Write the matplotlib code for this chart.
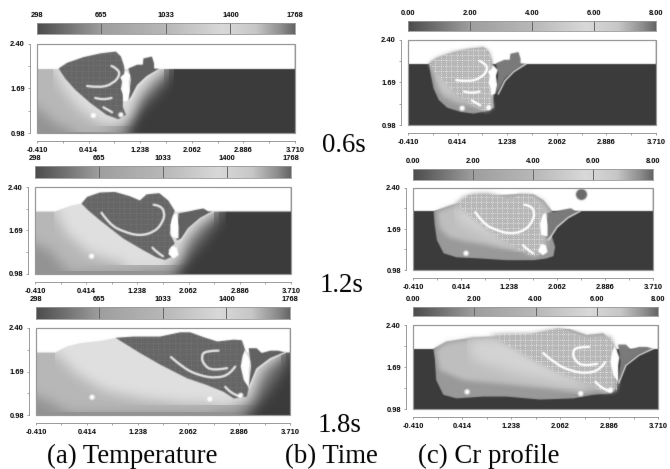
import numpy as np
import matplotlib
matplotlib.use("Agg")
import matplotlib.pyplot as plt
from matplotlib.colors import LinearSegmentedColormap
from matplotlib.patches import Polygon, Rectangle, PathPatch
from matplotlib.path import Path
from matplotlib.collections import LineCollection

# ---------- tick labels ----------
X_TICKS = [-0.41, 0.414, 1.238, 2.062, 2.886, 3.71]
X_LABELS = ["-0.410", "0.414", "1.238", "2.062", "2.886", "3.710"]
X_MINOR = [0.002, 0.826, 1.65, 2.474, 3.298]
Y_TICKS = [0.98, 1.69, 2.40]
Y_LABELS = ["0.98", "1.69", "2.40"]
Y_MINOR = [1.335, 2.045]
T_TICKS = [298, 665, 1033, 1400, 1768]
T_LABELS = ["298", "665", "1033", "1400", "1768"]
CR_TICKS = [0, 2, 4, 6, 8]
CR_LABELS = ["0.00", "2.00", "4.00", "6.00", "8.00"]
TIME_LABELS = ["0.6s", "1.2s", "1.8s"]
COLUMN_LABELS = ["(a) Temperature", "(b) Time", "(c) Cr profile"]

# colour bar grey
BAR_POS = [0, .12, .25, .5, .72, .85, .95, 1]
BAR_GREY = [.30, .45, .62, .72, .85, .78, .55, .40]

# ---------- air boundary ----------
AIR_06_X = [-.41, 3.71, 3.71, -.41]
AIR_06_Y = [2, 2, 2.4, 2.4]
AIR_12_X = [-.41, -.09, .04, .18, .337, .9, 3.71, 3.71, -.41]
AIR_12_Y = [2, 2, 2.05, 2.1, 2.13, 2.0, 2.0, 2.4, 2.4]
AIR_18_X = [-.41, -.1, .09, .31, .63, .88, 1.5, 3.71, 3.71, -.41]
AIR_18_Y = [2, 2, 2.10, 2.155, 2.19, 2.24, 2.0, 2.0, 2.4, 2.4]

# ---------- temperature isotherm bands ----------
BAND_06_A_X = [1.77, 1.62, 1.38, 1.17, 1.05, -.41, -.41]
BAND_06_A_Y = [2, 1.72, 1.47, 1.26, .98, .98, 2]
BAND_06_B_X = [1.69, 1.5, 1.23, 1.1, .97, -.41, -.41]
BAND_06_B_Y = [2, 1.78, 1.51, 1.25, .98, .98, 2]
BAND_06_C_X = [1.61, 1.4, 1.19, 1.08, .92, .7, .2, -.15, -.41, -.41]
BAND_06_C_Y = [2, 1.83, 1.62, 1.36, 1.08, 1.0, 1.0, 1.15, 1.4, 2]
BAND_06_D_X = [-.145, .015, .28, .6, .87, 1.05, 1.19, 1.4, 1.61]
BAND_06_D_Y = [2, 1.67, 1.35, 1.14, 1.10, 1.22, 1.56, 1.85, 2]

BAND_12_A_X = [2.65, 2.46, 2.19, 2.0, 1.87, -.41, -.41]
BAND_12_A_Y = [2, 1.70, 1.37, 1.15, .98, .98, 2]
BAND_12_B_X = [2.54, 2.3, 2.06, 1.92, 1.79, -.41, -.41]
BAND_12_B_Y = [2, 1.78, 1.45, 1.15, .98, .98, 2]
BAND_12_C_X = [2.46, 2.19, 1.98, 1.87, 1.68, 1.17, .1, -.17, -.41, -.41]
BAND_12_C_Y = [2, 1.80, 1.56, 1.21, 1.07, 1.04, 1.04, 1.37, 1.48, 2]
BAND_12_D_X = [-.09, .1, .47, 1.06, 1.71, 1.87, 1.98, 2.19, 2.46]
BAND_12_D_Y = [2, 1.64, 1.32, 1.13, 1.13, 1.23, 1.53, 1.80, 2]

BAND_18_A_X = [3.71, 3.6, 3.4, 3.2, 3.03, -.41, -.41]
BAND_18_A_Y = [2, 1.7, 1.4, 1.15, .98, .98, 2]
BAND_18_B_X = [3.63, 3.4, 3.22, 3.1, 2.9, -.41, -.41]
BAND_18_B_Y = [2, 1.75, 1.45, 1.2, .98, .98, 2]
BAND_18_C_X = [3.55, 3.25, 3.1, 3.05, 2.8, 2.4, .1, -.2, -.41, -.41]
BAND_18_C_Y = [2, 1.8, 1.45, 1.25, 1.1, 1.04, 1.04, 1.2, 1.3, 2]
BAND_18_D_X = [-.1, .25, .7, 1.3, 2.0, 2.7, 3.0, 3.1, 3.22, 3.55]
BAND_18_D_Y = [2, 1.65, 1.38, 1.25, 1.17, 1.15, 1.22, 1.45, 1.75, 2]

# ---------- liquid pool ----------
LIQ_06_X = [-.065, .07, .33, .6, .85, .93, .98, 1.0, .97, .96, 1.01, .89, .7, .44, .2, .04]
LIQ_06_Y = [2.01, 2.1, 2.19, 2.25, 2.28, 2.2, 2.05, 1.85, 1.6, 1.4, 1.27, 1.2, 1.27, 1.46, 1.67, 1.85]
LIQ_12_X = [.337, .43, .633, .875, 1.117, 1.278, 1.386, 1.59, 1.735, 1.84, 1.79, 1.76, 1.84, 1.735, 1.79, 1.68, 1.547, 1.33, 1.01, .633, .445]
LIQ_12_Y = [2.13, 2.24, 2.31, 2.32, 2.25, 2.18, 2.28, 2.30, 2.18, 2.01, 1.885, 1.64, 1.48, 1.37, 1.26, 1.21, 1.25, 1.37, 1.56, 1.86, 2.02]
LIQ_18_X = [.88, 1.17, 1.6, 1.93, 2.09, 2.31, 2.53, 2.8, 2.93, 3.0, 2.98, 2.98, 3.04, 3.01, 2.8, 2.63, 2.36, 2.04, 1.61, 1.28]
LIQ_18_Y = [2.24, 2.26, 2.26, 2.33, 2.33, 2.25, 2.18, 2.21, 2.20, 1.99, 1.85, 1.69, 1.42, 1.28, 1.25, 1.36, 1.47, 1.58, 1.80, 1.99]

# ---------- spatter on the far side ----------
SPAT_06_X = [1.05, 1.19, 1.28, 1.29, 1.425, 1.46, 1.46, 1.55, 1.345, 1.19, 1.09, 1.05, 1.09]
SPAT_06_Y = [2.01, 2.07, 2.07, 2.17, 2.2, 2.09, 2.01, 2.0, 1.89, 1.75, 1.56, 1.51, 1.83]
SPAT_12_X = [1.90, 2.06, 2.19, 2.30, 2.38, 2.46, 2.25, 2.06, 1.95, 1.87]
SPAT_12_Y = [1.97, 2.0, 2.03, 2.05, 2.0, 2.0, 1.885, 1.72, 1.56, 1.53]
SPAT_18_X = [3.04, 3.17, 3.25, 3.39, 3.52, 3.63, 3.39, 3.17, 3.09, 3.04, 3.08]
SPAT_18_Y = [2.07, 2.07, 1.99, 2.03, 2.03, 2.0, 1.91, 1.745, 1.55, 1.44, 1.77]

RIM_06_X = [1.09, 1.2, 1.345, 1.55]
RIM_06_Y = [1.5, 1.72, 1.87, 2.0]
RIM_12_X = [1.92, 2.06, 2.25, 2.46]
RIM_12_Y = [1.5, 1.72, 1.885, 2.0]
RIM_18_X = [3.05, 3.17, 3.39, 3.63]
RIM_18_Y = [1.42, 1.72, 1.89, 2.0]

# ---------- keyhole gas column ----------
KEY_06_X = [1.0, 1.08, 1.05, 1.07, 1.04, .97, .96, .93, .95, .92, .98]
KEY_06_Y = [1.98, 1.9, 1.8, 1.65, 1.5, 1.48, 1.6, 1.68, 1.8, 1.87, 1.92]
KEY_12_X = [1.87, 1.90, 1.90, 1.79, 1.77, 1.82]
KEY_12_Y = [1.97, 1.75, 1.56, 1.59, 1.78, 1.94]
POOL_12_X = [1.735, 1.79, 1.87, 1.90, 1.82]
POOL_12_Y = [1.305, 1.435, 1.41, 1.29, 1.235]
KEY_18_X = [2.98, 3.06, 3.04, 3.04, 2.96, 2.91, 2.94]
KEY_18_Y = [2.05, 1.85, 1.72, 1.43, 1.55, 1.77, 1.94]

# ---------- flow streaks ----------
FLOW_06_1_X = [.39, .60, .81, .92, .87, .78]
FLOW_06_1_Y = [1.73, 1.70, 1.77, 1.91, 2.01, 2.05]
FLOW_06_2_X = [.52, .65, .78]
FLOW_06_2_Y = [1.54, 1.50, 1.54]
FLOW_06_3_X = [.65, .79]
FLOW_06_3_Y = [1.39, 1.31]
FLOW_12_1_X = [.66, .79, 1.01, 1.28, 1.52, 1.65, 1.68, 1.6, 1.5]
FLOW_12_1_Y = [1.98, 1.79, 1.67, 1.60, 1.67, 1.83, 1.99, 2.10, 2.11]
FLOW_12_2_X = [1.48, 1.55, 1.65]
FLOW_12_2_Y = [1.41, 1.33, 1.27]
FLOW_18_1_X = [1.78, 1.98, 2.25, 2.53, 2.74, 2.82]
FLOW_18_1_Y = [1.925, 1.745, 1.62, 1.58, 1.65, 1.77]
FLOW_18_2_X = [2.55, 2.34, 2.27, 2.31, 2.45, 2.69]
FLOW_18_2_Y = [2.03, 2.03, 1.94, 1.80, 1.70, 1.745]
FLOW_18_3_X = [2.66, 2.74, 2.9]
FLOW_18_3_Y = [1.44, 1.335, 1.28]

PORE_06_X = [.49, .93]
PORE_06_Y = [1.26, 1.27]
PORE_12_X = [.50]
PORE_12_Y = [1.27]
PORE_18_X = [.5, 2.41, 2.91]
PORE_18_Y = [1.27, 1.24, 1.30]

# ---------- chromium profile regions ----------
MELT_06_X = [-.065, .07, .33, .6, .85, .93, .98, 1.02, 1.02, 1.01, 1.02, .88, .68, .46, .24, .1, .015, -.03]
MELT_06_Y = [2.01, 2.1, 2.19, 2.25, 2.28, 2.2, 2.05, 1.85, 1.6, 1.4, 1.27, 1.21, 1.17, 1.2, 1.27, 1.4, 1.59, 1.82]
INNER_06_X = [-.03, .07, .33, .6, .85, .93, .98, 1.0, .98, .7, .4, .18, .1, .03]
INNER_06_Y = [1.99, 2.08, 2.17, 2.23, 2.26, 2.18, 2.03, 1.6, 1.28, 1.3, 1.35, 1.45, 1.6, 1.8]
LIGHT_06_X = [.05, .4, .4, .3, .15]
LIGHT_06_Y = [1.95, 2.1, 1.7, 1.5, 1.7]
MELT_12_X = [-.056, .23, .46, .54, .8, 1.03, 1.43, 1.66, 1.83, 1.98, 1.94, 2.03, 2.0, 1.88, 1.66, 1.2, .74, .34, .115, 0, -.04]
MELT_12_Y = [2.0, 2.10, 2.17, 2.27, 2.29, 2.27, 2.30, 2.29, 2.19, 2.0, 1.67, 1.38, 1.22, 1.18, 1.15, 1.15, 1.18, 1.2, 1.27, 1.50, 1.78]
INNER_12_X = [0, .23, .46, .54, 1.0, 1.43, 1.66, 1.83, 1.95, 1.9, 1.85, 1.4, .85, .45, .2, .05]
INNER_12_Y = [1.98, 2.08, 2.15, 2.25, 2.25, 2.28, 2.27, 2.17, 2.0, 1.6, 1.3, 1.3, 1.42, 1.48, 1.55, 1.7]
LIGHT_12_X = [.3, 1.0, 1.2, 1.6, .9, .4]
LIGHT_12_Y = [2.05, 2.2, 1.7, 1.35, 1.55, 1.8]
MELT_18_X = [-.07, .15, .6, 1.0, 1.5, 1.84, 2.01, 2.23, 2.51, 2.79, 2.93, 3.02, 2.96, 3.0, 2.93, 2.62, 2.29, 1.73, 1.16, .77, .32, .1, -.02, -.04]
MELT_18_Y = [2.0, 2.12, 2.19, 2.21, 2.23, 2.29, 2.34, 2.33, 2.23, 2.26, 2.12, 1.98, 1.70, 1.33, 1.245, 1.22, 1.16, 1.14, 1.19, 1.19, 1.16, 1.22, 1.47, 1.81]
INNER_18_X = [-.03, .15, .6, 1.0, 1.5, 1.84, 2.01, 2.23, 2.51, 2.79, 2.93, 2.9, 2.4, 1.84, 1.05, .43, .04]
INNER_18_Y = [1.97, 2.1, 2.17, 2.19, 2.21, 2.27, 2.32, 2.31, 2.21, 2.24, 2.1, 1.35, 1.25, 1.33, 1.41, 1.47, 1.64]
LIGHT_18_X = [.5, 1.6, 2.3, 2.5, 1.4, .6]
LIGHT_18_Y = [2.15, 2.2, 1.6, 1.35, 1.55, 1.8]
DROP_12_X = [2.47]
DROP_12_Y = [2.30]

# ---------- frame of each plot and bar, in figure pixels ----------
W, H = 670, 469
FRAMES_T = [(37, 295, 44, 133, 23, 34.5), (35, 291, 187, 274, 166, 178), (36, 290, 328, 415, 307, 319)]
FRAMES_C = [(408, 656, 40, 125, 21, 31), (413, 653, 188, 270, 169, 180), (413, 658, 325, 409, 307, 316)]
TIME_POS = [(322, 152), (320, 292), (318, 432)]
COLUMN_POS = [(47, 463), (285, 463), (418, 463)]

T_BANDS = [
    [(BAND_06_A_X, BAND_06_A_Y), (BAND_06_B_X, BAND_06_B_Y), (BAND_06_C_X, BAND_06_C_Y), (BAND_06_D_X, BAND_06_D_Y)],
    [(BAND_12_A_X, BAND_12_A_Y), (BAND_12_B_X, BAND_12_B_Y), (BAND_12_C_X, BAND_12_C_Y), (BAND_12_D_X, BAND_12_D_Y)],
    [(BAND_18_A_X, BAND_18_A_Y), (BAND_18_B_X, BAND_18_B_Y), (BAND_18_C_X, BAND_18_C_Y), (BAND_18_D_X, BAND_18_D_Y)],
]
AIRS = [(AIR_06_X, AIR_06_Y), (AIR_12_X, AIR_12_Y), (AIR_18_X, AIR_18_Y)]
LIQS = [(LIQ_06_X, LIQ_06_Y), (LIQ_12_X, LIQ_12_Y), (LIQ_18_X, LIQ_18_Y)]
SPATS = [(SPAT_06_X, SPAT_06_Y), (SPAT_12_X, SPAT_12_Y), (SPAT_18_X, SPAT_18_Y)]
RIMS = [(RIM_06_X, RIM_06_Y), (RIM_12_X, RIM_12_Y), (RIM_18_X, RIM_18_Y)]
KEYS = [[(KEY_06_X, KEY_06_Y)], [(KEY_12_X, KEY_12_Y), (POOL_12_X, POOL_12_Y)], [(KEY_18_X, KEY_18_Y)]]
FLOWS = [
    [(FLOW_06_1_X, FLOW_06_1_Y), (FLOW_06_2_X, FLOW_06_2_Y), (FLOW_06_3_X, FLOW_06_3_Y)],
    [(FLOW_12_1_X, FLOW_12_1_Y), (FLOW_12_2_X, FLOW_12_2_Y)],
    [(FLOW_18_1_X, FLOW_18_1_Y), (FLOW_18_2_X, FLOW_18_2_Y), (FLOW_18_3_X, FLOW_18_3_Y)],
]
PORES = [(PORE_06_X, PORE_06_Y), (PORE_12_X, PORE_12_Y), (PORE_18_X, PORE_18_Y)]
MELTS = [(MELT_06_X, MELT_06_Y), (MELT_12_X, MELT_12_Y), (MELT_18_X, MELT_18_Y)]
INNERS = [(INNER_06_X, INNER_06_Y), (INNER_12_X, INNER_12_Y), (INNER_18_X, INNER_18_Y)]
LIGHTS = [(LIGHT_06_X, LIGHT_06_Y), (LIGHT_12_X, LIGHT_12_Y), (LIGHT_18_X, LIGHT_18_Y)]

BAND_GREYS = [.42, .58, .72, .88]


def blur(sigma, pad=0):
    r = int(3 * sigma) + 1
    k = np.exp(-0.5 * (np.arange(-r, r + 1) / sigma) ** 2)
    k /= k.sum()

    def f(img, dpi):
        if pad:
            img = np.pad(img, ((pad, pad), (pad, pad), (0, 0)))
        pm = img.copy()
        pm[..., :3] = pm[..., :3] * img[..., 3:]
        e = np.pad(pm, ((r, r), (r, r), (0, 0)), mode="edge")
        for ax_i in (0, 1):
            e = sum(w * np.roll(e, i - r, axis=ax_i) for i, w in enumerate(k))
        out = e[r:-r, r:-r]
        a = out[..., 3:]
        rgb = out[..., :3] / np.clip(a, 1e-4, None)
        return np.clip(np.concatenate([rgb, a], axis=2), 0, 1), -pad, -pad
    return f


SOFT = blur(6.0)
EDGE = blur(0.6, 3)
TEXT = blur(0.4, 3)


def g(v):
    return (v, v, v)


def poly(ax, xy, grey, z, flt=EDGE):
    p = Polygon(np.column_stack(xy), closed=True, fc=g(grey), ec="none", zorder=z)
    ax.add_patch(p)
    p.set_agg_filter(flt)
    return p


def axes_at(fig, L, R, T, B):
    return fig.add_axes([L / W, 1 - B / H, (R - L) / W, (B - T) / H])


def style_plot(ax):
    ax.set_xlim(-0.41, 3.71)
    ax.set_ylim(0.98, 2.40)
    ax.spines["top"].set_visible(False)
    ax.spines["right"].set_visible(False)
    for s in ("left", "bottom"):
        ax.spines[s].set_color(g(.55))
        ax.spines[s].set_linewidth(.6)
    ax.spines["left"].set_position(("outward", 4.8))
    ax.spines["bottom"].set_position(("outward", 6))
    ax.set_xticks(X_TICKS, X_LABELS)
    ax.set_yticks(Y_TICKS, Y_LABELS)
    ax.set_xticks(X_MINOR, minor=True)
    ax.set_yticks(Y_MINOR, minor=True)
    ax.tick_params(which="both", length=1.5, width=.5, color=g(.5), labelsize=5.4,
                   labelcolor="black", pad=2.5)
    for t in ax.get_xticklabels() + ax.get_yticklabels():
        t.set_fontweight("bold")
        t.set_agg_filter(TEXT)
    ax.add_patch(Rectangle((0, 0), 1, 1, transform=ax.transAxes, fc="none",
                           ec=g(.6), lw=.9, zorder=20, clip_on=False))


def velocity_grid(ax, patch, grey, alpha, lw):
    xs = np.arange(-0.41, 3.71, 0.09)
    ys = np.arange(0.98, 2.40, 0.09)
    segs = [[(x, .98), (x, 2.4)] for x in xs] + [[(-.41, y), (3.71, y)] for y in ys]
    lc = LineCollection(segs, colors=[g(grey)], linewidths=lw, linestyles=[(0, (1.3, 1.8))],
                        alpha=alpha, zorder=6)
    ax.add_collection(lc)
    lc.set_clip_path(patch)


def streak(ax, x, y, grey):
    # Curve through the read points, using each as a quadratic control point.
    pts = np.column_stack([x, y])
    verts = [pts[0]]
    codes = [Path.MOVETO]
    for j in range(1, len(pts) - 1):
        end = pts[j + 1] if j == len(pts) - 2 else (pts[j] + pts[j + 1]) / 2
        verts += [pts[j], end]
        codes += [Path.CURVE3, Path.CURVE3]
    if len(pts) == 2:
        verts.append(pts[1])
        codes.append(Path.LINETO)
    p = PathPatch(Path(verts, codes), fc="none", ec=g(grey), lw=1.7, capstyle="round", zorder=10)
    ax.add_patch(p)
    p.set_agg_filter(EDGE)


def details(ax, i, spat_grey, flow_grey):
    poly(ax, SPATS[i], spat_grey, 7)
    ax.plot(*RIMS[i], color=g(.88), lw=1.0, zorder=8, agg_filter=EDGE)
    for k in KEYS[i]:
        poly(ax, k, 1.0, 9)
    for fl in FLOWS[i]:
        streak(ax, fl[0], fl[1], flow_grey)
    ax.scatter(*PORES[i], s=14, color="white", edgecolors="none", zorder=11, agg_filter=EDGE)


def draw_bar(fig, L, R, T, B, ticks, labels):
    ax = axes_at(fig, L, R, T, B)
    cmap = LinearSegmentedColormap.from_list("b", [(p, g(v)) for p, v in zip(BAR_POS, BAR_GREY)])
    ax.imshow(np.linspace(0, 1, 256)[None, :], aspect="auto", cmap=cmap,
              extent=(ticks[0], ticks[-1], 0, 1))
    for v in ticks[1:-1]:
        ax.axvline(v, color=g(.4), lw=.7)
    ax.set_yticks([])
    ax.xaxis.tick_top()
    ax.set_xticks(ticks, labels)
    ax.tick_params(axis="x", length=0, labelsize=5.4, labelcolor="black", pad=3)
    for t in ax.get_xticklabels():
        t.set_fontweight("bold")
        t.set_agg_filter(TEXT)
    for s in ax.spines.values():
        s.set_color(g(.6))
        s.set_linewidth(.6)


plt.rcParams["font.family"] = ["Liberation Sans", "DejaVu Sans"]
fig = plt.figure(figsize=(W / 100, H / 100), dpi=100, facecolor="white")

for i in range(3):
    # temperature column
    L, R, T, B, BT, BB = FRAMES_T[i]
    draw_bar(fig, L, R, BT, BB, T_TICKS, T_LABELS)
    ax = axes_at(fig, L, R, T, B)
    ax.add_patch(Rectangle((-.41, .98), 4.12, 1.42, fc=g(.23), ec="none", zorder=1))
    for (bx, by), grey in zip(T_BANDS[i], BAND_GREYS):
        px = list(bx) + [bx[-1], bx[0]]
        py = list(by) + [2.4, 2.4]
        poly(ax, (px, py), grey, 2, SOFT)
    poly(ax, AIRS[i], 1.0, 3)
    liq = poly(ax, LIQS[i], .40, 5)
    velocity_grid(ax, liq, .7, .3, .4)
    details(ax, i, .38, .9)
    style_plot(ax)

    # chromium column
    L, R, T, B, BT, BB = FRAMES_C[i]
    draw_bar(fig, L, R, BT, BB, CR_TICKS, CR_LABELS)
    ax = axes_at(fig, L, R, T, B)
    ax.add_patch(Rectangle((-.41, .98), 4.12, 1.42, fc=g(.23), ec="none", zorder=1))
    poly(ax, AIRS[0], 1.0, 2)
    poly(ax, MELTS[i], .60, 3)
    poly(ax, INNERS[i], .75, 4, blur(2.5))
    poly(ax, LIGHTS[i], .83, 4, SOFT)
    liq = poly(ax, LIQS[i], .72, 5, blur(2.0, 6))
    velocity_grid(ax, liq, 1.0, .75, .5)
    details(ax, i, .48, 1.0)
    if i == 1:
        ax.scatter(DROP_12_X, DROP_12_Y, s=52, color=g(.42), edgecolors=g(.3), linewidths=.6,
                   zorder=8, agg_filter=EDGE)
    style_plot(ax)

for s, (x, y) in zip(TIME_LABELS + COLUMN_LABELS, TIME_POS + COLUMN_POS):
    fig.text(x / W, 1 - y / H, s, family="Liberation Serif", fontsize=19.3, color="black",
             va="baseline", ha="left", agg_filter=TEXT)

fig.savefig("out.png", dpi=100, facecolor="white")
